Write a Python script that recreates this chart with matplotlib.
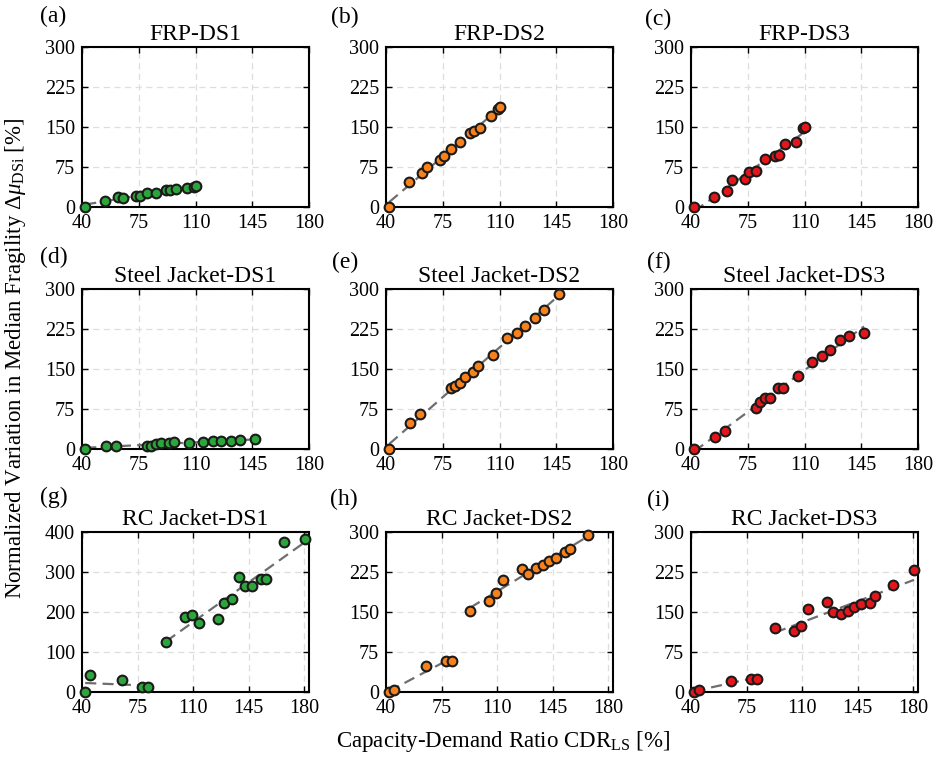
import numpy as np
import matplotlib
matplotlib.use("Agg")
import matplotlib.pyplot as plt

plt.rcParams['font.family'] = ['Liberation Serif', 'DejaVu Serif']
plt.rcParams['mathtext.fontset'] = 'custom'
plt.rcParams['mathtext.rm'] = 'Liberation Serif'
plt.rcParams['mathtext.it'] = 'Liberation Serif:italic'

# CDR values per row (shared by the three damage states)
x_frp = [42, 54, 62, 65, 73, 75.5, 80, 85.8, 92, 94, 97.7, 105, 109.3, 110]
x_steel = [42, 55, 61, 80, 82.5, 85.5, 88.7, 93.8, 96.6, 105.7, 114.7, 120.6,
           125.7, 131.8, 137.7, 146.7]
x_rc = [42, 45, 64.9, 78, 81.7, 93, 104.7, 109, 114, 125.7, 129.7, 134.8,
        138.9, 142.6, 146.8, 152.7, 156, 167, 180.5]

# normalized variation in median fragility [%]
frp_ds1 = [0, 12, 18, 17.5, 21, 20, 26, 26, 32, 32, 34, 35, 37, 39]
frp_ds2 = [0, 46.7, 63.5, 74.7, 88, 96, 108, 122, 139, 143, 149, 170.5, 183.6, 187]
frp_ds3 = [0, 19.3, 30, 50, 53, 65, 66.6, 89.6, 96, 98, 118, 122.6, 148, 150]

steel_ds1 = [0.6, 6, 5.6, 5.6, 6, 8.8, 12, 10.6, 13, 12, 12.5, 14.4, 14.4, 14.4,
             16.3, 18.8]
steel_ds2 = [0, 49, 65.4, 113.8, 117.6, 124.5, 134.6, 144, 154.7, 177, 208, 217,
             231.4, 246.5, 261, 290.6]
steel_ds3 = [0, 23.3, 33.3, 76, 88, 95.6, 96, 113.8, 114.5, 136.5, 164, 173.6,
             185, 204, 212, 217.6]

rc_ds1 = [0, 42, 29.4, 12.6, 11.8, 126, 188, 193, 173, 183, 223.5, 232.8, 287,
          266, 266, 281.5, 281.5, 374, 382]
rc_ds2 = [0, 3, 49, 58, 58.6, 152.5, 171, 186.5, 210, 230, 222, 233, 238, 246,
          252, 262.7, 269, 294]
rc_ds3 = [0, 3, 21.4, 25, 25, 120.4, 115.3, 123, 156, 169.5, 150, 146, 151,
          159.4, 164.5, 167, 179.6, 200, 229]

titles = ["FRP-DS1", "FRP-DS2", "FRP-DS3",
          "Steel Jacket-DS1", "Steel Jacket-DS2", "Steel Jacket-DS3",
          "RC Jacket-DS1", "RC Jacket-DS2", "RC Jacket-DS3"]
letters = ["(a)", "(b)", "(c)", "(d)", "(e)", "(f)", "(g)", "(h)", "(i)"]

green = '#2ca63c'
orange = '#f7821b'
red = '#e3171b'
ds_colors = [green, orange, red]

panels = [(x_frp, frp_ds1), (x_frp, frp_ds2), (x_frp, frp_ds3),
          (x_steel, steel_ds1), (x_steel, steel_ds2), (x_steel, steel_ds3),
          (x_rc, rc_ds1), (x_rc[:len(rc_ds2)], rc_ds2), (x_rc, rc_ds3)]

W, H = 936, 767
fig = plt.figure(figsize=(W / 100, H / 100), dpi=100)

col_left = [82, 386, 691]
row_top = [47, 289, 532]
ax_w, ax_h = 227, 160
letter_pos = [(40, 16), (331, 17), (645, 19),
              (40, 257), (332, 262), (647, 262),
              (40, 497), (330, 499), (647, 500)]

for k in range(9):
    r, c = divmod(k, 3)
    ax = fig.add_axes([col_left[c] / W, 1 - (row_top[r] + ax_h) / H, ax_w / W, ax_h / H])
    x = np.array(panels[k][0], dtype=float)
    y = np.array(panels[k][1], dtype=float)

    # linear trend (two segments for RC jacket)
    if r == 2:
        segs = [x < 90, x >= 90]
    else:
        segs = [np.ones_like(x, dtype=bool)]
    for m in segs:
        p = np.polyfit(x[m], y[m], 1)
        xs = np.array([x[m].min(), x[m].max()])
        ax.plot(xs, np.polyval(p, xs), color='#6e6e6e', lw=1.6,
                dashes=(5, 2.8), zorder=2)

    ax.plot(x, y, 'o', color=ds_colors[c], mec='#1a1a1a', mew=1.5, ms=7,
            zorder=3, clip_on=False)

    if r == 2:
        ax.set_xlim(40, 183)
    else:
        ax.set_xlim(40, 180)
    ax.set_xticks([40, 75, 110, 145, 180])
    if k == 6:
        ax.set_ylim(0, 400)
        ax.set_yticks([0, 100, 200, 300, 400])
    else:
        ax.set_ylim(0, 300)
        ax.set_yticks([0, 75, 150, 225, 300])

    ax.grid(True, color='#dedede', lw=0.9, dashes=(5, 3.5))
    ax.set_axisbelow(True)
    ax.tick_params(direction='in', top=True, right=True, length=4, width=1,
                   labelsize=14.5, pad=5)
    for s in ax.spines.values():
        s.set_linewidth(1.5)
    ax.set_title(titles[k], fontsize=17, pad=5)

    lx, ly = letter_pos[k]
    fig.text(lx / W, 1 - ly / H, letters[k], fontsize=17, ha='left', va='center')

fig.text(16 / W, 1 - 358 / H,
         r"Normalized Variation in Median Fragility $\Delta\mu_{\mathrm{DSi}}$ [%]",
         rotation=90, fontsize=16.5, ha='center', va='center')
fig.text(503 / W, 1 - 741 / H, r"Capacity-Demand Ratio CDR$_{\mathrm{LS}}$ [%]",
         fontsize=16.5, ha='center', va='center')

fig.savefig("out.png", dpi=100)
